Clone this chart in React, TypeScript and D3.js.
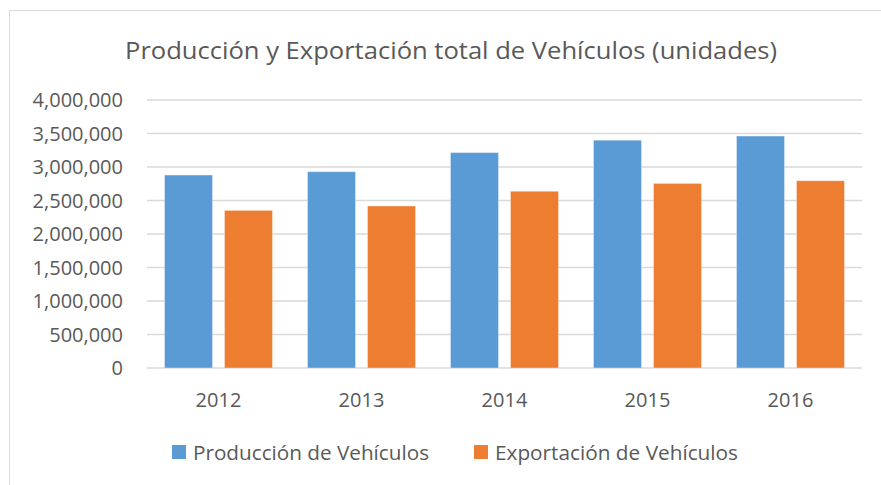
import React from "react";
import * as d3 from "d3";

const categories = ["2012", "2013", "2014", "2015", "2016"];
const seriesNames = ["Producción de Vehículos", "Exportación de Vehículos"];
const produccion = [2880000, 2930000, 3215000, 3400000, 3462000];
const exportacion = [2352000, 2418000, 2638000, 2755000, 2795000];
const yTicks = [0, 500000, 1000000, 1500000, 2000000, 2500000, 3000000, 3500000, 4000000];
const colors = ["#5B9BD5", "#ED7D31"];
const title = "Producción y Exportación total de Vehículos (unidades)";

const W = 881;
const H = 485;
const FONT = "'Open Sans', 'Noto Sans', sans-serif";
const TEXT = "#595959";

export default function App() {
  const x0 = d3
    .scaleBand<string>()
    .domain(categories)
    .range([147, 862])
    .paddingInner(0.245)
    .paddingOuter(0.1225);
  const x1 = d3
    .scaleBand<string>()
    .domain(seriesNames)
    .range([0, x0.bandwidth()])
    .paddingInner(0.2)
    .paddingOuter(0);
  const y = d3.scaleLinear().domain([0, 4000000]).range([368, 100]);
  const fmt = d3.format(",");
  const series = [produccion, exportacion];
  const [gx0, gx1] = x0.range();

  return (
    <svg
      width={W}
      height={H}
      style={{ position: "absolute", left: 0, top: 0, background: "#fff" }}
    >
      <rect x={0} y={0} width={W} height={H} fill="#fff" />
      <rect x={9.5} y={10.5} width={W + 20} height={H + 20} fill="#fff" stroke="#d9d9d9" strokeWidth={1} />
      <text
        x={451}
        y={58.5}
        textAnchor="middle"
        fontFamily={FONT}
        fontSize={24}
        fill={TEXT}
        textLength={652}
        lengthAdjust="spacingAndGlyphs"
      >
        {title}
      </text>
      {yTicks.map((t) => (
        <g key={t}>
          <line x1={gx0} x2={gx1} y1={y(t)} y2={y(t)} stroke="#d9d9d9" strokeWidth={1.3} />
          <text
            x={123}
            y={y(t) + 7}
            textAnchor="end"
            fontFamily={FONT}
            fontSize={20}
            fill={TEXT}
          >
            {fmt(t)}
          </text>
        </g>
      ))}
      {categories.map((c, i) => (
        <g key={c} transform={`translate(${x0(c)},0)`}>
          {seriesNames.map((s, j) => (
            <rect
              key={s}
              x={x1(s)}
              y={y(series[j][i])}
              width={x1.bandwidth()}
              height={y(0) - y(series[j][i])}
              fill={colors[j]}
              stroke="rgba(255,255,255,0.35)"
              strokeWidth={1}
            />
          ))}
          <text
            x={x0.bandwidth() / 2}
            y={406.5}
            textAnchor="middle"
            fontFamily={FONT}
            fontSize={20}
            fill={TEXT}
          >
            {c}
          </text>
        </g>
      ))}
      {seriesNames.map((s, j) => {
        const lx = [172, 474][j];
        const tw = [236, 243][j];
        return (
          <g key={s}>
            <rect x={lx} y={445} width={14} height={14} fill={colors[j]} />
            <text
              x={lx + 21}
              y={460}
              fontFamily={FONT}
              fontSize={20}
              fill={TEXT}
              textLength={tw}
              lengthAdjust="spacingAndGlyphs"
            >
              {s}
            </text>
          </g>
        );
      })}
    </svg>
  );
}
